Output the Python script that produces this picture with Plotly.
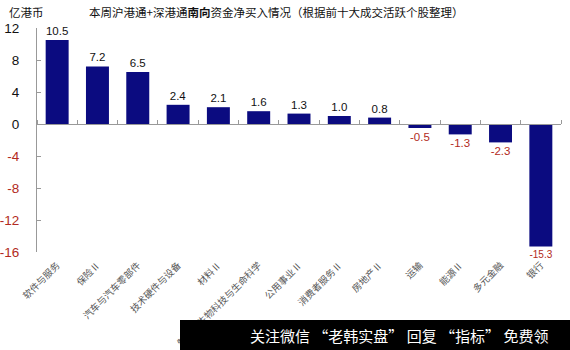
import plotly.graph_objects as go

# Southbound net buying by sector (亿港币)
categories = ["软件与服务", "保险Ⅱ", "汽车与汽车零部件", "技术硬件与设备", "材料Ⅱ",
              "制药、生物科技与生命科学", "公用事业Ⅱ", "消费者服务Ⅱ", "房地产Ⅱ",
              "运输", "能源Ⅱ", "多元金融", "银行"]
values = [10.5, 7.2, 6.5, 2.4, 2.1, 1.6, 1.3, 1.0, 0.8, -0.5, -1.3, -2.3, -15.3]
y_ticks = [12, 8, 4, 0, -4, -8, -12, -16]

BAR = "#0b0b80"
NEG = "#b22a22"
NUM_FONT = "Liberation Sans, Arial, sans-serif"
CJK_FONT = "Noto Sans CJK SC, sans-serif"

W, H = 570, 350
ML, MR, MT, MB = 37, 9, 28, 98
PW, PH = W - ML - MR, H - MT - MB
Y_MIN, Y_MAX = -16, 12


def px_x(p):
    return (p - ML) / PW


def px_y(p):
    return (H - MB - p) / PH


fig = go.Figure()
fig.add_trace(go.Bar(
    x=categories, y=values, width=0.57,
    marker=dict(color=BAR, line=dict(width=0)),
    text=[f"{v:.1f}" for v in values],
    textposition="outside",
    textfont=dict(family=NUM_FONT, size=11.5,
                  color=[NEG if v < 0 else "#111" for v in values]),
    cliponaxis=False,
    hoverinfo="skip",
))

tick_text = [f'<span style="color:{NEG}">{t}</span>' if t < 0 else str(t) for t in y_ticks]

fig.update_layout(
    width=W, height=H,
    margin=dict(l=ML, r=MR, t=MT, b=MB, autoexpand=False),
    paper_bgcolor="white", plot_bgcolor="white",
    showlegend=False,
    bargap=0.43,
    xaxis=dict(
        type="category", range=[-0.5, len(categories) - 0.5],
        showline=False, ticks="", showgrid=False, zeroline=False,
        tickangle=-45, ticklabelstandoff=5, automargin=False,
        tickfont=dict(family=CJK_FONT, size=9.5, color="#555"),
    ),
    # category axis line along y = 0, with boundary ticks pointing up
    xaxis2=dict(
        overlaying="x", anchor="free", side="top",
        position=(0 - Y_MIN) / (Y_MAX - Y_MIN),
        range=[-0.5, len(categories) - 0.5],
        tickvals=[i - 0.5 for i in range(len(categories) + 1)],
        ticks="outside", ticklen=4, tickcolor="#999", tickwidth=1,
        showticklabels=False, showline=True, linecolor="#999", linewidth=1,
        showgrid=False, zeroline=False, automargin=False,
    ),
    yaxis=dict(
        range=[Y_MIN, Y_MAX], tickvals=y_ticks, ticktext=tick_text,
        showline=True, linecolor="#999", linewidth=1,
        ticks="inside", ticklen=4, tickcolor="#999",
        showgrid=False, zeroline=False, automargin=False,
        tickfont=dict(family=NUM_FONT, size=13.5, color="#111"),
        ticklabelstandoff=14,
    ),
)

# invisible anchor trace so the overlay axis is drawn
fig.add_trace(go.Scatter(x=[0, len(categories) - 1], y=[0, 0], xaxis="x2", yaxis="y",
                         mode="markers", marker=dict(opacity=0), hoverinfo="skip"))

fig.add_annotation(
    text="本周沪港通+深港通<b>南向</b>资金净买入情况（根据前十大成交活跃个股整理）",
    xref="paper", yref="paper", x=px_x(276), y=px_y(12),
    xanchor="center", yanchor="middle", showarrow=False,
    font=dict(family=CJK_FONT, size=11.5, color="#111"),
)
fig.add_annotation(
    text="亿港币", xref="paper", yref="paper", x=px_x(7), y=px_y(12),
    xanchor="left", yanchor="middle", showarrow=False,
    font=dict(family=CJK_FONT, size=11.5, color="#111"),
)

# promotional banner along the bottom edge
fig.add_shape(type="rect", xref="paper", yref="paper",
              x0=px_x(180), x1=px_x(572), y0=px_y(352), y1=px_y(320),
              fillcolor="black", line=dict(width=0), layer="above")
fig.add_annotation(
    text="关注微信 “老韩实盘” 回复 “指标” 免费领",
    xref="paper", yref="paper", x=px_x(248), y=px_y(335),
    xanchor="left", yanchor="middle", showarrow=False,
    font=dict(family=CJK_FONT, size=15, color="white"),
)

fig.write_html("out.html")
